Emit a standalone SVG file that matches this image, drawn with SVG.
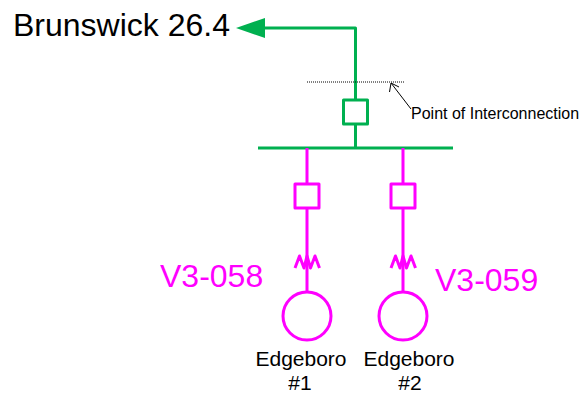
<svg xmlns="http://www.w3.org/2000/svg" width="581" height="394" viewBox="0 0 581 394">
<style>
text{font-family:"Liberation Sans",Arial,sans-serif}
.g{fill:none;stroke:#00b050;stroke-width:3;stroke-linejoin:round}
.m{fill:none;stroke:#ff00ff;stroke-width:3;stroke-linejoin:round}
.big{font-size:32px}
.mt{fill:#ff00ff;font-size:32px}
.lbl{font-size:21px;fill:#000;text-anchor:middle}
</style>
<rect width="581" height="394" fill="#fff"/>
<g id="connectors">
<path class="g" d="M264 28H355.500V100"/>
<path class="g" d="M355.500 124V148"/>
<path class="g" d="M258 148H453"/>
<polygon points="236,28 265,18 265,38" fill="#00b050"/>
<path d="M307 82H404" fill="none" stroke="#000" stroke-width="1" stroke-dasharray="1 1"/>
<path d="M411 109L391 83M391 83L389.500 92M391 83L399 87" fill="none" stroke="#000" stroke-width="1"/>
<path class="m" d="M307 148V184M307 208V293"/>
<path class="m" d="M403 148V184M403 208V293"/>
</g>
<g id="brunswick"><text class="big" x="13" y="36">Brunswick 26.4</text></g>
<g id="poi-breaker"><rect class="g" x="343.500" y="100" width="24" height="24"/></g>
<g id="poi-label"><text x="411" y="119" font-size="16" fill="#000">Point of Interconnection</text></g>
<g id="breaker-1"><rect class="m" x="295" y="184" width="24" height="24"/></g>
<g id="breaker-2"><rect class="m" x="391" y="184" width="24" height="24"/></g>
<g id="transformer-1"><path class="m" d="M295 268L299.500 256L304 268L307 256L310.500 268L315 256L319.500 268"/></g>
<g id="transformer-2"><path class="m" d="M391 268L395.500 256L400 268L403 256L406.500 268L411 256L415.500 268"/></g>
<g id="gen-1"><circle class="m" cx="307" cy="316" r="24"/></g>
<g id="gen-2"><circle class="m" cx="403" cy="316" r="24"/></g>
<g id="v3-058"><text class="mt" x="160" y="287">V3-058</text></g>
<g id="v3-059"><text class="mt" x="435" y="291">V3-059</text></g>
<g id="edgeboro-1"><text class="lbl" x="301" y="366">Edgeboro</text><text class="lbl" x="300" y="389.500">#1</text></g>
<g id="edgeboro-2"><text class="lbl" x="409" y="366">Edgeboro</text><text class="lbl" x="410" y="389.500">#2</text></g>
</svg>
